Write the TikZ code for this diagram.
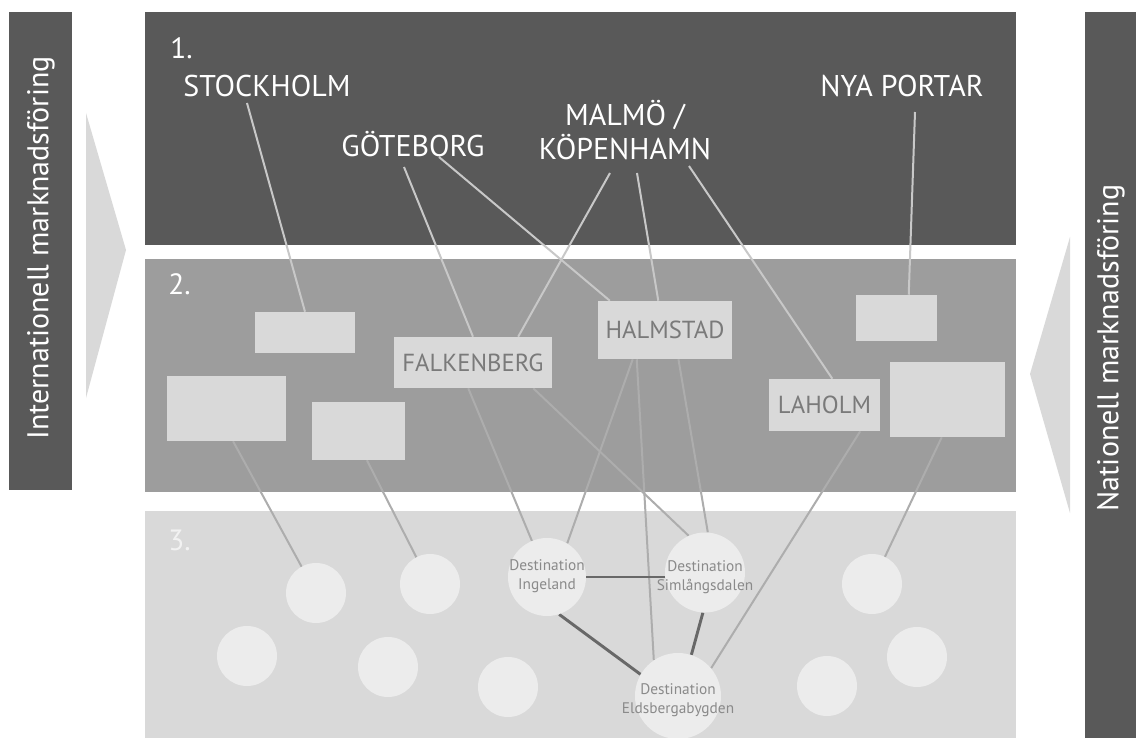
\documentclass[tikz,border=0pt]{standalone}
\usepackage{fontspec}
\setmainfont{PT Sans}
\usetikzlibrary{calc}
\pgfdeclarelayer{back}
\pgfdeclarelayer{lines}
\pgfsetlayers{back,lines,main}
\definecolor{dark}{HTML}{595959}
\definecolor{mid}{HTML}{9D9D9D}
\definecolor{pale}{HTML}{D9D9D9}
\definecolor{circ}{HTML}{ECECEC}
\definecolor{boxtext}{HTML}{7A7A7A}
\definecolor{circtext}{HTML}{8A8A8A}
\definecolor{lineone}{HTML}{C8C8C8}
\definecolor{linetwo}{HTML}{ADADAD}
\definecolor{linethree}{HTML}{686868}
\begin{document}
\begin{tikzpicture}[x=0.75pt,y=-0.75pt,
  city/.style={text=white,inner sep=0pt,font=\fontsize{22.5}{26}\selectfont,align=center},
  num/.style={inner sep=0pt,anchor=west,font=\fontsize{22}{24}\selectfont},
  sidetext/.style={text=white,inner sep=0pt,rotate=90,font=\fontsize{22.5}{26}\selectfont},
  rbox/.style={fill=pale,draw=none,inner sep=0pt,text=boxtext,font=\fontsize{18.5}{20}\selectfont},
  dot/.style={circle,fill=circ,draw=none,inner sep=0pt,minimum size=45pt},
  dest/.style={circle,fill=circ,draw=none,inner sep=0pt},
  desttext/.style={text=circtext,inner sep=0pt,align=center,font=\fontsize{11.5}{14.2}\selectfont},
  linkone/.style={draw=lineone,line width=1.5pt},
  linktwo/.style={draw=linetwo,line width=1.5pt},
  linkthree/.style={draw=linethree,line width=2.2pt}]
\useasboundingbox (0,0) rectangle (1136,738);

% panels and side bars
\begin{pgfonlayer}{back}
\fill[white] (0,0) rectangle (1136,738);
\fill[dark] (145,12) rectangle (1016,245);
\fill[mid] (145,259) rectangle (1016,492);
\fill[pale] (145,511) rectangle (1016,738);
\fill[dark] (9,12) rectangle (72,490);
\fill[dark] (1085,12) rectangle (1136,738);
\fill[pale] (86,113) -- (126,250) -- (86,398) -- cycle;
\fill[pale] (1070,237) -- (1030,374) -- (1070,513) -- cycle;
\end{pgfonlayer}

% side texts
\node[sidetext] (intl) at (41,248) {Internationell marknadsföring};
\node[sidetext] (natl) at (1111,348) {Nationell marknadsföring};

% level numbers
\node[num,text=white] (n1) at (170,48) {1.};
\node[num,text=white] (n2) at (168,284) {2.};
\node[num,text=white!95!black] (n3) at (168,540) {3.};

% level 1 cities
\node[city] (stock) at (267,86) {STOCKHOLM};
\node[city] (gote) at (413,144) {GÖTEBORG};
\node[city] (malmo) at (625,130) {MALMÖ /\\KÖPENHAMN};
\node[city] (nya) at (902,86) {NYA PORTAR};

% level 2 boxes
\node[rbox,minimum width=75pt,minimum height=30.75pt] (b1) at (305,332.5) {};
\node[rbox,minimum width=89.25pt,minimum height=48.75pt] (b2) at (226.5,408.5) {};
\node[rbox,minimum width=69.75pt,minimum height=43.5pt] (b3) at (358.5,431) {};
\node[rbox,minimum width=118.5pt,minimum height=38.25pt] (falk) at (473,362.5) {FALKENBERG};
\node[rbox,minimum width=100.5pt,minimum height=43.5pt] (halm) at (665,330) {HALMSTAD};
\node[rbox,minimum width=60.75pt,minimum height=34.5pt] (b6) at (896.5,318) {};
\node[rbox,minimum width=83.25pt,minimum height=39pt] (lah) at (824.5,405) {LAHOLM};
\node[rbox,minimum width=86.25pt,minimum height=56.25pt] (b7) at (947.5,399.5) {};

% level 3 circles
\node[dot] (c1) at (316,593) {};
\node[dot] (c2) at (430,584) {};
\node[dot] (c3) at (247,656) {};
\node[dot] (c4) at (388,667) {};
\node[dot] (c5) at (508,687) {};
\node[dot] (rc1) at (872,584) {};
\node[dot] (rc2) at (917,657) {};
\node[dot] (rc3) at (827,686) {};
\node[dest,minimum size=58.5pt] (ing) at (547,577) {};
\node[dest,minimum size=60pt] (siml) at (705,572.5) {};
\node[dest,minimum size=64.5pt] (eld) at (678,696) {};
\node[desttext] (ingt) at (547,576) {Destination\\Ingeland};
\node[desttext] (simlt) at (705,577) {Destination\\Simlångsdalen};
\node[desttext] (eldt) at (678,700) {Destination\\Eldsbergabygden};

% connectors
\begin{pgfonlayer}{lines}
\draw[linkone] ($(stock.center)+(-20,17)$) -- (b1.north);
\draw[linkone] ($(gote.center)+(-9,23)$) -- (falk.north);
\draw[linkone] ($(gote.center)+(26,13)$) -- ($(halm.north west)!0.09!(halm.north east)$);
\draw[linkone] ($(malmo.center)+(-15,43)$) -- ($(falk.north west)!0.785!(falk.north east)$);
\draw[linkone] ($(malmo.center)+(12,43)$) -- ($(halm.north west)!0.45!(halm.north east)$);
\draw[linkone] ($(malmo.center)+(64,36)$) -- ($(lah.north west)!0.57!(lah.north east)$);
\draw[linkone] ($(nya.center)+(13,26)$) -- ($(b6.north west)!0.65!(b6.north east)$);

\draw[linktwo] ($(b2.south west)!0.555!(b2.south east)$) -- (c1.center);
\draw[linktwo] ($(b3.south west)!0.59!(b3.south east)$) -- (c2.center);
\draw[linktwo] ($(falk.south west)!0.47!(falk.south east)$) -- (ing.center);
\draw[linktwo] ($(falk.south west)!0.88!(falk.south east)$) -- (siml.114);
\draw[linktwo] ($(halm.south west)!0.26!(halm.south east)$) -- (ing.59);
\draw[linktwo] ($(halm.south west)!0.29!(halm.south east)$) -- (eld.124);
\draw[linktwo] ($(halm.south west)!0.6!(halm.south east)$) -- (siml.86);
\draw[linktwo] ($(lah.south west)!0.82!(lah.south east)$) -- (eld.40);
\draw[linktwo] ($(b7.south west)!0.45!(b7.south east)$) -- (rc1.center);

\draw[linkthree] (ing.east) -- (ing.east -| siml.west);
\draw[linkthree] (ing.-72) -- (eld.150);
\draw[linkthree] (siml.-93) -- (eld.72);
\end{pgfonlayer}
\end{tikzpicture}
\end{document}
